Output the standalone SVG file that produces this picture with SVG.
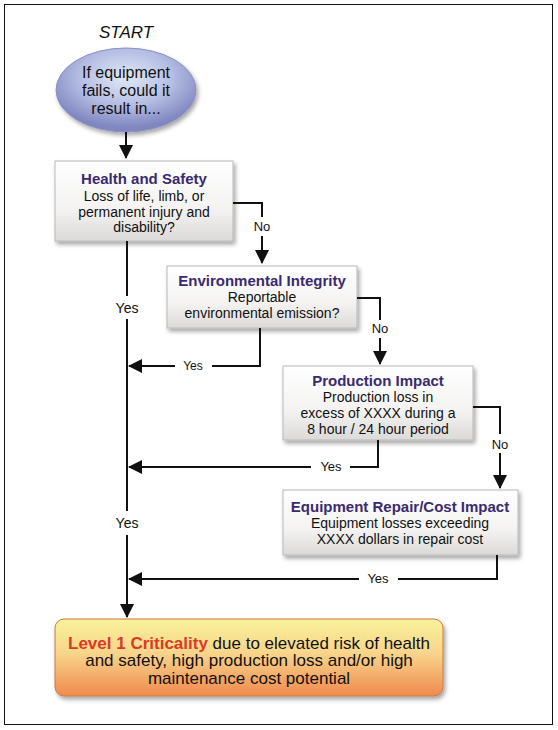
<svg xmlns="http://www.w3.org/2000/svg" width="558" height="730" viewBox="0 0 558 730">
<style>
  text { font-family: "Liberation Sans", Arial, sans-serif; fill: #111; text-anchor: middle; }
  .title { font-weight: bold; fill: #3a2a6e; font-size: 15px; }
  .body { font-size: 14px; }
  .lbl { font-size: 13px; }
  .conn { fill: none; stroke: #111; stroke-width: 2; }
  .box { fill: url(#boxGrad); stroke: #b8b8b8; stroke-width: 1; filter: url(#shadow); }
</style>
<defs>
  <linearGradient id="boxGrad" x1="0" y1="0" x2="0" y2="1">
    <stop offset="0" stop-color="#ffffff"/>
    <stop offset="0.6" stop-color="#f4f3f2"/>
    <stop offset="1" stop-color="#dcdad8"/>
  </linearGradient>
  <radialGradient id="ellGrad" cx="0.5" cy="0.35" r="0.6">
    <stop offset="0" stop-color="#dfe8f7"/>
    <stop offset="0.55" stop-color="#b5bee3"/>
    <stop offset="1" stop-color="#7f86c0"/>
  </radialGradient>
  <linearGradient id="lvlGrad" x1="0" y1="0" x2="0" y2="1">
    <stop offset="0" stop-color="#f9f29c"/>
    <stop offset="0.45" stop-color="#f8d48a"/>
    <stop offset="1" stop-color="#ef8a4e"/>
  </linearGradient>
  <filter id="shadow" x="-10%" y="-10%" width="125%" height="135%">
    <feDropShadow dx="2" dy="3" stdDeviation="2" flood-color="#000" flood-opacity="0.35"/>
  </filter>
  <marker id="arr" markerUnits="userSpaceOnUse" markerWidth="14" markerHeight="14" viewBox="0 0 14 14" refX="13" refY="7" orient="auto">
    <path d="M0,0 L14,7 L0,14 Z" fill="#111"/>
  </marker>
</defs>

<rect x="4.5" y="4.5" width="548" height="720" fill="#fff" stroke="#111" stroke-width="1"/>

<g id="start">
  <text x="126" y="38" style="font-size:17px;font-style:italic;">START</text>
</g>

<g id="question">
  <ellipse cx="126" cy="90" rx="70" ry="42" fill="url(#ellGrad)" stroke="#8a90c2" stroke-width="1" filter="url(#shadow)"/>
  <text x="126" y="78" style="font-size:16px;">If equipment</text>
  <text x="126" y="96" style="font-size:16px;">fails, could it</text>
  <text x="126" y="114" style="font-size:16px;">result in...</text>
</g>

<g id="health">
  <rect class="box" x="55" y="161" width="178" height="80"/>
  <text class="title" x="144" y="184">Health and Safety</text>
  <text class="body" x="144" y="201">Loss of life, limb, or</text>
  <text class="body" x="144" y="217">permanent injury and</text>
  <text class="body" x="144" y="232">disability?</text>
</g>

<g id="environment">
  <rect class="box" x="167" y="266" width="190" height="62"/>
  <text class="title" x="262" y="286">Environmental Integrity</text>
  <text class="body" x="262" y="302">Reportable</text>
  <text class="body" x="262" y="318">environmental emission?</text>
</g>

<g id="production">
  <rect class="box" x="283" y="366" width="190" height="74"/>
  <text class="title" x="378" y="386">Production Impact</text>
  <text class="body" x="378" y="402">Production loss in</text>
  <text class="body" x="378" y="418">excess of XXXX during a</text>
  <text class="body" x="378" y="434">8 hour / 24 hour period</text>
</g>

<g id="repair">
  <rect class="box" x="283" y="490" width="235" height="65"/>
  <text class="title" x="400" y="512">Equipment Repair/Cost Impact</text>
  <text class="body" x="400" y="528">Equipment losses exceeding</text>
  <text class="body" x="400" y="544">XXXX dollars in repair cost</text>
</g>

<g id="level1">
  <rect x="55" y="619" width="388" height="77" rx="9" fill="url(#lvlGrad)" stroke="#c87a40" stroke-width="1" filter="url(#shadow)"/>
  <text x="249" y="649" style="font-size:17px;"><tspan style="fill:#d93a26;font-weight:bold;">Level 1 Criticality</tspan> due to elevated risk of health</text>
  <text x="249" y="666" style="font-size:17px;">and safety, high production loss and/or high</text>
  <text x="249" y="684" style="font-size:17px;">maintenance cost potential</text>
</g>

<g id="connectors">
  <path class="conn" d="M126,132 V158" marker-end="url(#arr)"/>

  <path class="conn" d="M233,203 H262 V217"/>
  <path class="conn" d="M262,236 V263" marker-end="url(#arr)"/>
  <text class="lbl" x="262" y="231">No</text>

  <path class="conn" d="M127,241 V296"/>
  <path class="conn" d="M127,319 V511"/>
  <path class="conn" d="M127,535 V617" marker-end="url(#arr)"/>
  <text class="lbl" x="127" y="313" style="font-size:14px;">Yes</text>
  <text class="lbl" x="127" y="528" style="font-size:14px;">Yes</text>

  <path class="conn" d="M357,298 H380 V320"/>
  <path class="conn" d="M380,338 V364" marker-end="url(#arr)"/>
  <text class="lbl" x="380" y="333">No</text>

  <path class="conn" d="M260,328 V366 H212"/>
  <path class="conn" d="M175,366 H129" marker-end="url(#arr)"/>
  <text class="lbl" x="193" y="370" style="font-size:12px;">Yes</text>

  <path class="conn" d="M473,407 H500 V434"/>
  <path class="conn" d="M500,453 V488" marker-end="url(#arr)"/>
  <text class="lbl" x="500" y="449">No</text>

  <path class="conn" d="M378,440 V467 H350"/>
  <path class="conn" d="M311,467 H129" marker-end="url(#arr)"/>
  <text class="lbl" x="331" y="471">Yes</text>

  <path class="conn" d="M497,555 V579 H398"/>
  <path class="conn" d="M359,579 H129" marker-end="url(#arr)"/>
  <text class="lbl" x="378" y="583">Yes</text>
</g>
</svg>
